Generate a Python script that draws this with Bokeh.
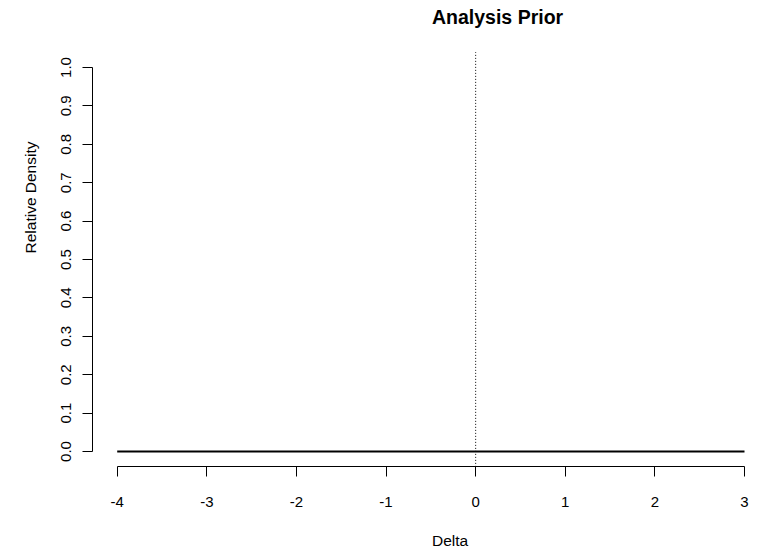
import math
from bokeh.plotting import figure
from bokeh.models import Range1d, Label, FixedTicker, PrintfTickFormatter
from bokeh.embed import file_html
from bokeh.resources import INLINE

# ---- data ----
title_text = "Analysis Prior"
x_label = "Delta"
y_label = "Relative Density"
delta = [-4, -3, -2, -1, 0, 1, 2, 3]
relative_density = [0, 0, 0, 0, 0, 0, 0, 0]
x_ticks = [-4, -3, -2, -1, 0, 1, 2, 3]
x_tick_labels = ["-4", "-3", "-2", "-1", "0", "1", "2", "3"]
y_ticks = [0.0, 0.1, 0.2, 0.3, 0.4, 0.5, 0.6, 0.7, 0.8, 0.9, 1.0]
y_tick_labels = ["0.0", "0.1", "0.2", "0.3", "0.4", "0.5", "0.6", "0.7", "0.8", "0.9", "1.0"]
reference_delta = 0

# ---- layout (pixels) ----
W, H = 757, 551
X_FIRST_PX, X_LAST_PX = 116.7, 744.0   # screen x of first/last x tick
Y_FIRST_PX, Y_LAST_PX = 451.0, 67.0    # screen y of first/last y tick
FONT = "Liberation Sans"

x_lo_t, x_hi_t = x_ticks[0], x_ticks[-1]
y_lo_t, y_hi_t = y_ticks[0], y_ticks[-1]
px_x = (X_LAST_PX - X_FIRST_PX) / (x_hi_t - x_lo_t)
px_y = (Y_FIRST_PX - Y_LAST_PX) / (y_hi_t - y_lo_t)
x_range = Range1d(x_lo_t - X_FIRST_PX / px_x, x_hi_t + (W - X_LAST_PX) / px_x)
y_range = Range1d(y_lo_t - (H - Y_FIRST_PX) / px_y, y_hi_t + Y_LAST_PX / px_y)

# R-style plot region (4% extension of the data range)
usr_x_lo = x_lo_t - 0.04 * (x_hi_t - x_lo_t)
usr_y_lo = y_lo_t - 0.04 * (y_hi_t - y_lo_t)
usr_y_hi = y_hi_t + 0.04 * (y_hi_t - y_lo_t)

p = figure(width=W, height=H, x_range=x_range, y_range=y_range,
           output_backend="svg", toolbar_location=None,
           min_border=0, min_border_left=0, min_border_right=0,
           min_border_top=0, min_border_bottom=0)
p.outline_line_color = None
p.xgrid.visible = False
p.ygrid.visible = False
p.background_fill_color = "white"
p.border_fill_color = "white"

# data
p.line(delta, relative_density, line_width=2.2, line_color="black")
p.segment(x0=[reference_delta], y0=[usr_y_lo], x1=[reference_delta], y1=[usr_y_hi],
          line_color="black", line_width=1, line_dash="1 2")

# axes (R style: detached from data, spanning first..last tick)
xa = p.xaxis[0]
ya = p.yaxis[0]
for ax in (xa, ya):
    ax.major_tick_out = 10
    ax.major_tick_in = 0
    ax.minor_tick_line_color = None
    ax.axis_line_color = "black"
    ax.major_tick_line_color = "black"
    ax.major_label_text_font = FONT
    ax.major_label_text_font_size = "15px"
    ax.major_label_text_color = "black"

xa.fixed_location = usr_y_lo
xa.ticker = FixedTicker(ticks=x_ticks)
xa.major_label_overrides = dict(zip(x_ticks, x_tick_labels))
xa.bounds = (x_lo_t, x_hi_t)
xa.major_label_standoff = 20

ya.fixed_location = usr_x_lo
ya.ticker = FixedTicker(ticks=y_ticks)
ya.formatter = PrintfTickFormatter(format="%.1f")
ya.major_label_overrides = dict(zip(y_ticks, y_tick_labels))
ya.bounds = (y_lo_t, y_hi_t)
ya.major_label_orientation = "vertical"
ya.major_label_standoff = 11

# title and axis titles (screen px; y measured from bottom of canvas)
p.add_layout(Label(x=431.5, y=H - 16, x_units="screen", y_units="screen", text=title_text,
                   text_font=FONT, text_font_size="19.5px", text_font_style="bold",
                   text_color="black", text_align="left", text_baseline="alphabetic"))
p.add_layout(Label(x=431.5, y=H - 539.5, x_units="screen", y_units="screen", text=x_label,
                   text_font=FONT, text_font_size="15.5px", text_color="black",
                   text_align="left", text_baseline="alphabetic"))
p.add_layout(Label(x=30, y=H - 197, x_units="screen", y_units="screen", text=y_label,
                   angle=math.pi / 2, text_font=FONT, text_font_size="15.5px", text_color="black",
                   text_align="center", text_baseline="middle"))

open("out.html", "w").write(file_html(p, INLINE))
